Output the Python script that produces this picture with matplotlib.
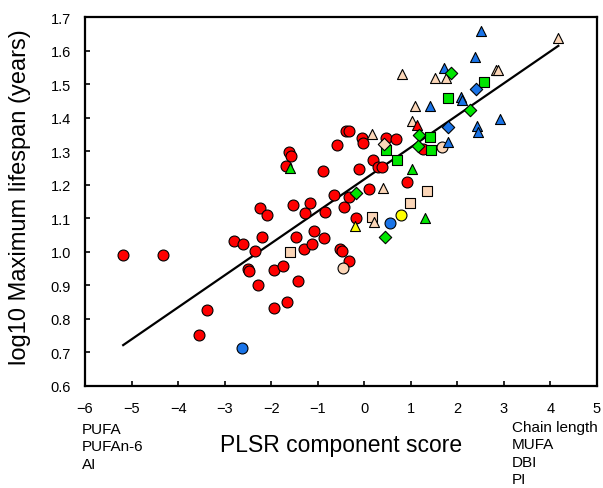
import numpy as np
import matplotlib
matplotlib.use('Agg')
import matplotlib.pyplot as plt

plt.rcParams['font.family'] = ['Liberation Sans', 'DejaVu Sans']

# Datos (PLSR score, log10 longevidad maxima)
rojo_circ_x = [-5.18, -4.33, -3.56, -3.38, -2.80, -2.60, -2.34, -2.49, -2.47, -2.25,
               -2.08, -2.20, -2.29, -1.95, -1.75, -1.95, -1.67, -1.43, -1.62, -1.57,
               -1.69, -1.53, -1.28, -1.17, -1.47, -1.29, -1.13, -1.07, -0.87, -0.85,
               -0.64, -0.89, -0.59, -0.53, -0.47, -0.32, -0.39, -0.32, -0.04, -0.03,
               0.46, 0.69, -0.12, 0.19, 0.29, 0.38, 0.10, -0.32, -0.43, -0.17,
               0.91, 1.27]
rojo_circ_y = [0.990, 0.990, 0.752, 0.827, 1.032, 1.024, 1.002, 0.947, 0.943, 1.130,
               1.110, 1.044, 0.902, 0.944, 0.958, 0.833, 0.850, 0.913, 1.297, 1.285,
               1.257, 1.140, 1.116, 1.146, 1.044, 1.007, 1.024, 1.063, 1.040, 1.120,
               1.170, 1.242, 1.318, 1.008, 1.002, 0.972, 1.360, 1.360, 1.339, 1.325,
               1.341, 1.337, 1.247, 1.273, 1.253, 1.253, 1.187, 1.164, 1.134, 1.100,
               1.208, 1.307]
rojo_tri_x = [1.14]
rojo_tri_y = [1.378]

crema_circ_x = [-0.46, 1.66]
crema_circ_y = [0.951, 1.313]
crema_cuad_x = [-1.59, 0.17, 0.98, 1.34]
crema_cuad_y = [0.998, 1.103, 1.146, 1.181]
crema_tri_x = [0.16, 0.40, 0.21, 0.81, 1.52, 1.75, 1.10, 1.03, 2.84, 2.88, 4.17]
crema_tri_y = [1.351, 1.191, 1.090, 1.530, 1.520, 1.520, 1.435, 1.390, 1.543, 1.544, 1.638]
crema_diam_x = [0.42]
crema_diam_y = [1.322]

azul_circ_x = [-2.63, 0.55]
azul_circ_y = [0.714, 1.086]
azul_tri_x = [2.50, 2.39, 1.72, 2.08, 2.11, 1.41, 2.92, 2.42, 2.45, 1.80]
azul_tri_y = [1.658, 1.580, 1.549, 1.462, 1.452, 1.435, 1.396, 1.375, 1.357, 1.329]
azul_diam_x = [2.41, 1.80]
azul_diam_y = [1.485, 1.371]

verde_cuad_x = [0.47, 0.70, 2.58, 1.79, 1.42, 1.44]
verde_cuad_y = [1.303, 1.273, 1.506, 1.458, 1.342, 1.304]
verde_diam_x = [-0.18, 0.44, 1.86, 2.28, 1.17, 1.16]
verde_diam_y = [1.176, 1.044, 1.533, 1.424, 1.350, 1.316]
verde_tri_x = [-1.59, 1.31, 1.02]
verde_tri_y = [1.250, 1.100, 1.248]

amarillo_circ_x = [0.79]
amarillo_circ_y = [1.110]
amarillo_tri_x = [-0.20]
amarillo_tri_y = [1.076]

etiquetas_izq = ['PUFA', 'PUFAn-6', 'AI']
etiquetas_der = ['Chain length', 'MUFA', 'DBI', 'PI']

ROJO = '#ff0000'
CREMA = '#fbd6b8'
AZUL = '#1a74e8'
VERDE = '#00e600'
AMARILLO = '#ffff00'

grupos = [
    (rojo_circ_x, rojo_circ_y, ROJO, 'o', 62),
    (crema_circ_x, crema_circ_y, CREMA, 'o', 62),
    (azul_circ_x, azul_circ_y, AZUL, 'o', 62),
    (amarillo_circ_x, amarillo_circ_y, AMARILLO, 'o', 62),
    (crema_cuad_x, crema_cuad_y, CREMA, 's', 46),
    (verde_cuad_x, verde_cuad_y, VERDE, 's', 46),
    (crema_tri_x, crema_tri_y, CREMA, '^', 52),
    (azul_tri_x, azul_tri_y, AZUL, '^', 52),
    (verde_tri_x, verde_tri_y, VERDE, '^', 52),
    (rojo_tri_x, rojo_tri_y, ROJO, '^', 52),
    (amarillo_tri_x, amarillo_tri_y, AMARILLO, '^', 52),
    (crema_diam_x, crema_diam_y, CREMA, 'D', 40),
    (azul_diam_x, azul_diam_y, AZUL, 'D', 40),
    (verde_diam_x, verde_diam_y, VERDE, 'D', 40),
]

fig = plt.figure(figsize=(6.03, 4.89), dpi=100)
ax = fig.add_axes([0.141, 0.2092, 0.849, 0.7534])

todos_x = []
todos_y = []
for gx, gy, color, marca, tam in grupos:
    ax.scatter(gx, gy, s=tam, c=color, marker=marca, edgecolors='black',
               linewidths=0.8, zorder=3)
    todos_x += gx
    todos_y += gy

# Recta de regresion sobre todos los puntos
todos_x = np.array(todos_x)
todos_y = np.array(todos_y)
pend, inter = np.polyfit(todos_x, todos_y, 1)
xr = np.array([todos_x.min(), todos_x.max()])
ax.plot(xr, inter + pend * xr, color='black', linewidth=1.6, zorder=2)

ax.set_xlim(-6, 5)
ax.set_ylim(0.6, 1.7)
ax.set_xticks(np.arange(-6, 6, 1))
ax.set_yticks(np.round(np.arange(0.6, 1.71, 0.1), 1))
ax.set_yticklabels([f'{v:.1f}' for v in np.arange(0.6, 1.71, 0.1)])
ax.tick_params(direction='in', length=3.6, width=1.2, labelsize=10.5)
ax.tick_params(axis='x', pad=11)
ax.tick_params(axis='y', pad=10)
for lado in ax.spines.values():
    lado.set_linewidth(1.6)

ax.set_xlabel('PLSR component score', fontsize=16.5, va='baseline')
ax.xaxis.set_label_coords(0.5, -0.1764)
ax.set_ylabel('log10 Maximum lifespan (years)', fontsize=17)
ax.yaxis.set_label_coords(-0.105, 0.515)

# Etiquetas de las cargas en los extremos del eje x
for i, txt in enumerate(etiquetas_izq):
    fig.text(82 / 603, 1 - (434 + 17.5 * i) / 489, txt, fontsize=11,
             va='baseline', ha='left')
for i, txt in enumerate(etiquetas_der):
    fig.text(512 / 603, 1 - (432 + 17.5 * i) / 489, txt, fontsize=11,
             va='baseline', ha='left')

fig.savefig('out.png', dpi=100)
